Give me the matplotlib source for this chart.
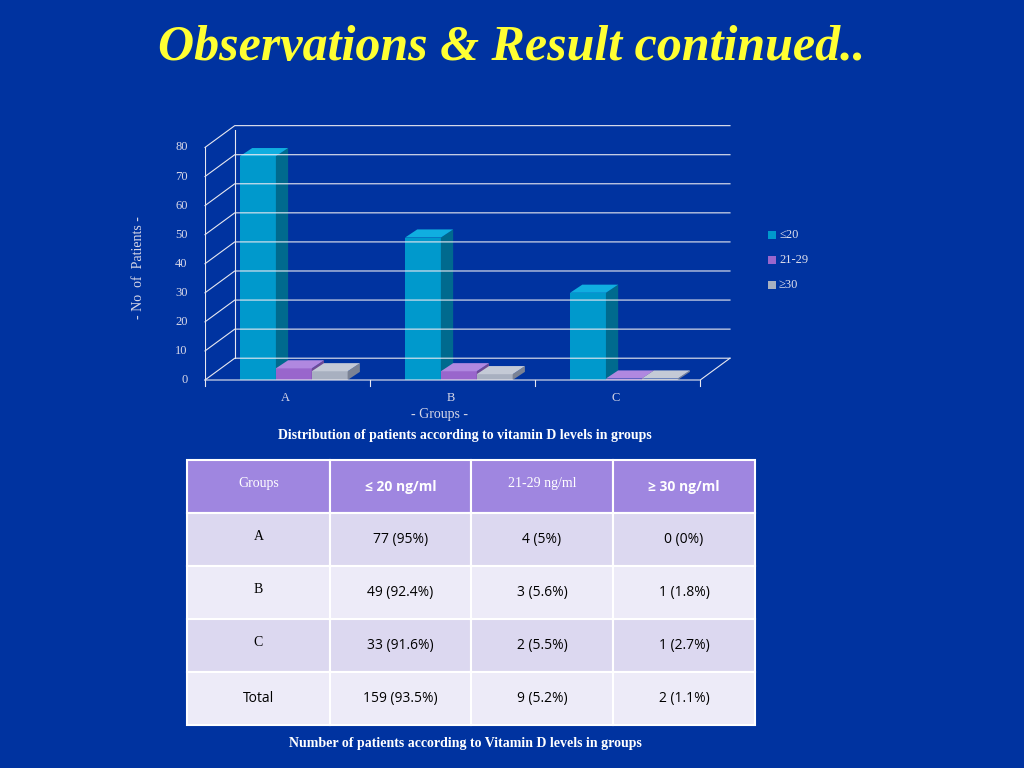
import matplotlib.pyplot as plt
from matplotlib.patches import Polygon, Rectangle

GROUPS = ["A", "B", "C"]
SERIES = ["≤20", "21-29", "≥30"]
VALUES = {
    "≤20":   [77, 49, 30],
    "21-29": [4, 3, 0.5],
    "≥30":   [3, 2, 0.5],
}
TABLE_HEAD = ["Groups", "≤ 20 ng/ml", "21-29 ng/ml", "≥ 30 ng/ml"]
TABLE_ROWS = [
    ["A", "77 (95%)", "4 (5%)", "0 (0%)"],
    ["B", "49 (92.4%)", "3 (5.6%)", "1 (1.8%)"],
    ["C", "33 (91.6%)", "2 (5.5%)", "1 (2.7%)"],
    ["Total", "159 (93.5%)", "9 (5.2%)", "2 (1.1%)"],
]

BG = "#0033A0"
FRONT = {"≤20": "#0099CC", "21-29": "#9966CC", "≥30": "#A8B0C0"}
SIDE = {"≤20": "#006A8E", "21-29": "#6E4A96", "≥30": "#7A8294"}
TOP = {"≤20": "#10AEE0", "21-29": "#B088E0", "≥30": "#C4CAD6"}
SERIF = "Liberation Serif"
SANS = "Open Sans"

fig = plt.figure(figsize=(10.24, 7.68), dpi=100, facecolor=BG)
fig.text(0.5, 1 - 48 / 768, "Observations & Result continued..", ha="center", va="center",
         color="#FFFF33", fontsize=36, family=SERIF, weight="bold", style="italic")

# ---- 3D-ish bar chart ----
ax = fig.add_axes([205 / 1024, (768 - 380) / 768, 525 / 1024, 250 / 768])
ax.set_facecolor("none")
ax.set_xlim(0, 3.0)
ax.set_ylim(0, 86)
for s in ax.spines.values():
    s.set_visible(False)
ax.set_xticks([])
ax.set_yticks([])

DX, DY = 0.17, 7.5
gcol = "#E8E8F0"
for y in range(0, 90, 10):
    ax.plot([0, DX, 3.0], [y, y + DY, y + DY], color=gcol, lw=0.8, clip_on=False)
    ax.text(-0.1, y, str(y), ha="right", va="center", color="#D8D8E8",
            fontsize=9, family=SERIF)
ax.plot([0, 0], [0, 80], color=gcol, lw=0.8)
ax.plot([DX, DX], [DY, 80 + DY], color=gcol, lw=0.8)
ax.plot([0, 2.83, 3.0], [0, 0, DY], color=gcol, lw=0.8, clip_on=False)
for xt in [0, 0.943, 1.886, 2.83]:
    ax.plot([xt, xt], [0, -2], color=gcol, lw=0.8, clip_on=False)

SP = 0.943
w, bdx, bdy = 0.205, 0.07, 2.8
for gi, g in enumerate(GROUPS):
    for si, s in enumerate(SERIES):
        v = VALUES[s][gi]
        x0 = gi * SP + 0.2 + si * w
        ax.add_patch(Rectangle((x0, 0), w, v, facecolor=FRONT[s], edgecolor="none"))
        ax.add_patch(Polygon([(x0 + w, 0), (x0 + w + bdx, bdy), (x0 + w + bdx, v + bdy),
                              (x0 + w, v)], facecolor=SIDE[s], edgecolor="none"))
        ax.add_patch(Polygon([(x0, v), (x0 + bdx, v + bdy), (x0 + w + bdx, v + bdy),
                              (x0 + w, v)], facecolor=TOP[s], edgecolor="none"))
    ax.text(gi * SP + 0.46, -4, g, ha="center", va="top", color="#D8D8E8", fontsize=9, family=SERIF)

ax.text(1.34, -9.5, "- Groups -", ha="center", va="top", color="#D8D8E8", fontsize=10, family=SERIF)
fig.text(138 / 1024, 1 - 268 / 768, "- No  of  Patients -", rotation=90, ha="center",
         va="center", color="#D8D8E8", fontsize=10, family=SERIF)

for i, s in enumerate(SERIES):
    yy = 1 - (235 + 25 * i) / 768
    fig.patches.append(Rectangle((768 / 1024, yy - 0.005), 0.008, 0.01, facecolor=FRONT[s],
                                 transform=fig.transFigure, figure=fig))
    fig.text(779 / 1024, yy, s, va="center", color="#E0E0EC", fontsize=9, family=SERIF)

fig.text(465 / 1024, 1 - 436 / 768, "Distribution of patients according to vitamin D levels in groups",
         ha="center", va="center", color="white", fontsize=10, family=SERIF, weight="bold")

# ---- table ----
cols = [187, 330, 471, 613, 755]
rows = [460, 513, 566, 619, 672, 725]
fills = ["#9F86E0", "#DCD8F0", "#EDEBF8", "#DCD8F0", "#EDEBF8"]
content = [TABLE_HEAD] + TABLE_ROWS
for r in range(5):
    for c in range(4):
        x, y = cols[c], rows[r]
        fig.patches.append(Rectangle((x / 1024, 1 - rows[r + 1] / 768),
                                     (cols[c + 1] - x) / 1024, (rows[r + 1] - y) / 768,
                                     facecolor=fills[r], edgecolor="white", lw=1.5,
                                     transform=fig.transFigure, figure=fig))
        txt = content[r][c]
        serif = (c == 0 and r < 4) or (r == 0 and c == 2)
        fig.text((x + cols[c + 1]) / 2 / 1024, 1 - (y + rows[r + 1]) / 2 / 768 + (0.004 if serif else 0),
                 txt, ha="center", va="center", fontsize=10,
                 color="white" if r == 0 else "black",
                 family=SERIF if serif else SANS, weight="bold" if (r == 0 and not serif) else "normal")

fig.text(465 / 1024, 1 - 743 / 768, "Number of patients according to Vitamin D levels in groups",
         ha="center", va="center", color="white", fontsize=10, family=SERIF, weight="bold")

fig.savefig("out.png", dpi=100, facecolor=BG)
